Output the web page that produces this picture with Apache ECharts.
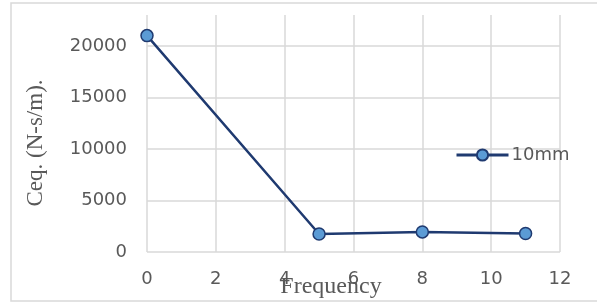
<!DOCTYPE html>
<html>
<head>
<meta charset="utf-8">
<script src="https://cdn.jsdelivr.net/npm/echarts@6/dist/echarts.min.js"></script>
<style>
html, body { margin: 0; padding: 0; background: #fff; }
#main { width: 597px; height: 304px; }
</style>
</head>
<body>
<div id="main"></div>
<script>
var frequency = [0, 5, 8, 11];
var ceq10mm = [21000, 1750, 1950, 1800];
var xTicks = [0, 2, 4, 6, 8, 10, 12];
var yTicks = [0, 5000, 10000, 15000, 20000];

var points = frequency.map(function (f, i) { return [f, ceq10mm[i]]; });

var myChart = echarts.init(document.getElementById('main'));

var option = {
	animation: false,
	backgroundColor: '#fff',
	graphic: [{
		type: 'rect',
		shape: { x: 11, y: 3, width: 600, height: 298 },
		style: { fill: 'none', stroke: '#d9d9d9', lineWidth: 1.5 },
		silent: true
	}, {
		// y axis title
		type: 'text',
		x: 36,
		y: 143,
		rotation: Math.PI / 2,
		style: {
			text: 'Ceq. (N-s/m).',
			fill: '#595959',
			font: '23px "Liberation Serif"',
			align: 'center',
			verticalAlign: 'middle'
		}
	}, {
		// x axis title
		type: 'text',
		x: 331,
		y: 287,
		style: {
			text: 'Frequency',
			fill: '#595959',
			font: '24px "Liberation Serif"',
			align: 'center',
			verticalAlign: 'middle'
		}
	}],
	grid: { left: 147, right: 37, top: 15, bottom: 52, outerBoundsMode: 'none' },
	legend: {
		data: ['10mm'],
		left: 450,
		top: 141,
		itemWidth: 52,
		itemHeight: 14,
		lineStyle: { width: 3 },
		textStyle: { color: '#595959', fontSize: 18, fontFamily: 'DejaVu Sans', padding: [0, 0, 0, -2] }
	},
	xAxis: {
		type: 'value',
		min: 0,
		max: 12,
		interval: 2,
		axisLine: { show: false },
		axisTick: { show: false },
		axisLabel: { color: '#595959', fontSize: 18, fontFamily: 'DejaVu Sans', margin: 18 },
		splitLine: { show: true, lineStyle: { color: '#d9d9d9', width: 1.5 } }
	},
	yAxis: {
		type: 'value',
		min: 0,
		max: 23000,
		interval: 5000,
		axisLine: { show: false },
		axisTick: { show: false },
		axisLabel: {
			color: '#595959', fontSize: 18, fontFamily: 'DejaVu Sans', margin: 20,
			formatter: function (v) { return yTicks.indexOf(v) >= 0 ? String(v) : ''; }
		},
		splitLine: { show: true, showMaxLine: false, lineStyle: { color: '#d9d9d9', width: 1.5 } }
	},
	series: [{
		name: '10mm',
		type: 'line',
		data: points,
		symbol: 'circle',
		symbolSize: 12,
		lineStyle: { color: '#1f3a70', width: 2.5 },
		itemStyle: { color: '#5b9bd5', borderColor: '#1f3a70', borderWidth: 1.5 }
	}]
};
myChart.setOption(option);
</script>
</body>
</html>
